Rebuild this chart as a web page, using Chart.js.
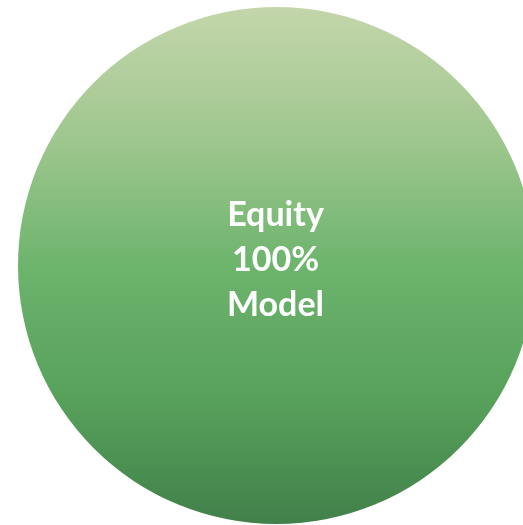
<!DOCTYPE html>
<html lang="en">
  <head>
    <meta charset="UTF-8" />
    <title>Equity Model</title>
    <script src="https://cdn.jsdelivr.net/npm/chart.js"></script>
    <style>
      html,
      body {
        margin: 0;
        padding: 0;
        background: #ffffff;
        overflow: hidden;
        width: 523px;
        height: 525px;
      }

      #wrap {
        position: absolute;
        left: 18px;
        top: 7px;
        width: 517px;
        height: 517px;
      }
    </style>
  </head>
  <body>
    <div id="wrap"><canvas id="pieChart"></canvas></div>

    <script>
      // Chart data
      const categories = ["Equity"];
      const shares = [100];
      const modelName = "Model";

      // Gradient stops from top (light) to bottom (dark)
      const gradientStops = [
        [0, "#c4d6ab"],
        [0.25, "#a0c78f"],
        [0.5, "#6db46d"],
        [0.75, "#58a25b"],
        [1, "#41804a"],
      ];

      function sliceFill(context) {
        const chart = context.chart;
        const area = chart.chartArea;
        if (!area) return gradientStops[2][1];
        const g = chart.ctx.createLinearGradient(0, area.top, 0, area.bottom);
        gradientStops.forEach(function (s) {
          g.addColorStop(s[0], s[1]);
        });
        return g;
      }

      // Write the label lines in the middle of the pie
      const centerText = {
        id: "centerText",
        afterDatasetsDraw(chart) {
          const arc = chart.getDatasetMeta(0).data[0];
          if (!arc) return;
          const ctx = chart.ctx;
          const lines = [
            categories[0],
            shares[0] + "%",
            modelName,
          ];
          ctx.save();
          ctx.fillStyle = "#ffffff";
          ctx.font = "bold 34px Lato";
          ctx.textAlign = "center";
          ctx.textBaseline = "middle";
          lines.forEach(function (t, i) {
            ctx.fillText(t, arc.x - 1, arc.y - 50 + i * 45);
          });
          ctx.restore();
        },
      };

      new Chart(document.getElementById("pieChart"), {
        type: "pie",
        data: {
          labels: categories,
          datasets: [
            {
              data: shares,
              backgroundColor: sliceFill,
              borderWidth: 0,
            },
          ],
        },
        options: {
          responsive: true,
          maintainAspectRatio: false,
          animation: false,
          layout: { padding: 0 },
          plugins: {
            legend: { display: false },
            tooltip: { enabled: false },
          },
        },
        plugins: [centerText],
      });
    </script>
  </body>
</html>
